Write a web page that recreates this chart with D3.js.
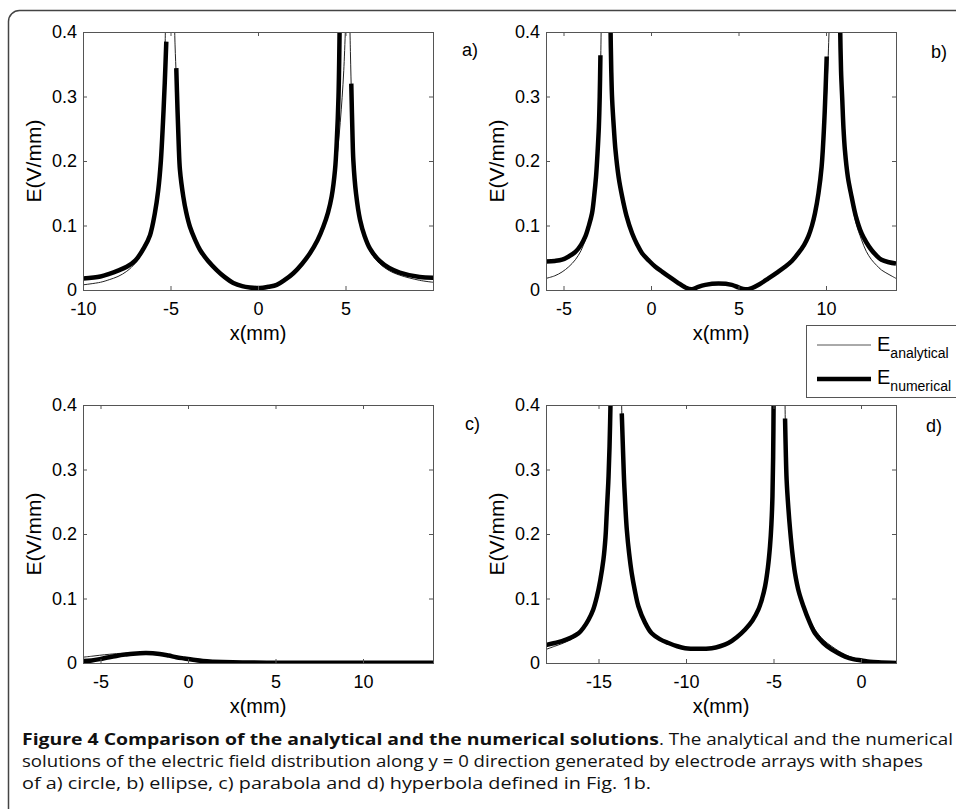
<!DOCTYPE html>
<html>
<head>
<meta charset="utf-8">
<script src="https://cdn.jsdelivr.net/npm/d3@7"></script>
<style>
  body { margin: 0; background: #fff; }
</style>
</head>
<body>
<span></span>
<script>
// E along y = 0 for four electrode shapes, analytical (thin) vs numerical (thick)
// every series is split in segments, the electrodes leave a gap in the curves

const yTicks = [0, 0.1, 0.2, 0.3, 0.4];

// a) circle
const xTicksA = [-10, -5, 0, 5];
const numA = [
    [[-10,0.018],[-9,0.021],[-8.5,0.025],[-8,0.03],[-7.5,0.036],[-7,0.046],[-6.5,0.066],[-6.17,0.085],[-5.9,0.118],[-5.7,0.155],[-5.55,0.2],[-5.43,0.26],[-5.33,0.32],[-5.24,0.385]],
    [[-4.67,0.344],[-4.6,0.28],[-4.53,0.225],[-4.46,0.186],[-4.27,0.145],[-4.1,0.12],[-3.89,0.098],[-3.6,0.078],[-3.31,0.062],[-2.85,0.045],[-2.36,0.031],[-1.9,0.02],[-1.41,0.011],[-0.9,0.006],[-0.46,0.004],[0.11,0.003],[0.6,0.005],[1.07,0.008],[1.55,0.016],[2.02,0.026],[2.5,0.04],[2.97,0.057],[3.4,0.077],[3.73,0.098],[4.0,0.12],[4.21,0.145],[4.4,0.186],[4.5,0.23],[4.6,0.3],[4.67,0.42]],
    [[5.33,0.32],[5.4,0.24],[5.45,0.2],[5.6,0.15],[5.83,0.109],[6.1,0.083],[6.4,0.064],[6.95,0.045],[7.5,0.034],[8.1,0.027],[9.24,0.02],[10,0.019]]
];
const anaA = [
    [[-10,0.008],[-9,0.012],[-8.5,0.016],[-8,0.021],[-7.5,0.029],[-7,0.042],[-6.5,0.063],[-6.17,0.083],[-5.9,0.116],[-5.7,0.153],[-5.55,0.2],[-5.43,0.26],[-5.35,0.33],[-5.3,0.39],[-5.27,0.45]],
    [[-4.8,0.45],[-4.74,0.38],[-4.67,0.33],[-4.6,0.28],[-4.53,0.225],[-4.46,0.186],[-4.27,0.145],[-4.1,0.12],[-3.89,0.098],[-3.6,0.078],[-3.31,0.062],[-2.85,0.045],[-2.36,0.031],[-1.9,0.019],[-1.41,0.01],[-0.9,0.005],[-0.46,0.002],[0.11,0.002],[0.6,0.004],[1.07,0.007],[1.55,0.015],[2.02,0.026],[2.5,0.04],[2.97,0.057],[3.4,0.077],[3.73,0.098],[4.0,0.12],[4.21,0.145],[4.45,0.19],[4.7,0.26],[4.9,0.34],[5.05,0.45]],
    [[5.22,0.45],[5.28,0.37],[5.35,0.29],[5.45,0.198],[5.6,0.148],[5.83,0.106],[6.1,0.08],[6.4,0.06],[6.95,0.041],[7.5,0.03],[8.1,0.023],[9.24,0.015],[10,0.012]]
];

// b) ellipse
const xTicksB = [-5, 0, 5, 10];
const numB = [
    [[-6,0.044],[-5.5,0.045],[-5.08,0.047],[-4.7,0.052],[-4.32,0.059],[-4.0,0.07],[-3.75,0.083],[-3.55,0.1],[-3.37,0.119],[-3.25,0.145],[-3.14,0.176],[-3.05,0.215],[-2.98,0.253],[-2.93,0.3],[-2.89,0.364]],
    [[-2.32,0.42],[-2.27,0.34],[-2.22,0.295],[-2.12,0.25],[-2.03,0.217],[-1.85,0.175],[-1.65,0.145],[-1.4,0.115],[-1.08,0.088],[-0.8,0.071],[-0.51,0.057],[-0.1,0.045],[0.25,0.036],[0.6,0.029],[1.01,0.021],[1.5,0.012],[1.96,0.004],[2.34,0.001],[2.7,0.005],[3.1,0.008],[3.86,0.01],[4.62,0.008],[5.0,0.004],[5.38,0.001],[5.76,0.003],[6.2,0.009],[6.71,0.018],[7.2,0.027],[7.66,0.036],[8.05,0.045],[8.42,0.057],[8.75,0.07],[8.99,0.083],[9.2,0.1],[9.37,0.119],[9.57,0.15],[9.75,0.191],[9.9,0.26],[10.04,0.362]],
    [[10.8,0.42],[10.86,0.34],[10.93,0.295],[11.0,0.25],[11.08,0.217],[11.25,0.175],[11.46,0.145],[11.7,0.115],[12.03,0.088],[12.3,0.074],[12.6,0.062],[12.9,0.053],[13.17,0.047],[13.6,0.043],[14,0.041]]
];
const anaB = [
    [[-6,0.018],[-5.5,0.022],[-5.08,0.028],[-4.7,0.036],[-4.32,0.047],[-4.0,0.061],[-3.75,0.078],[-3.55,0.095],[-3.37,0.115],[-3.25,0.14],[-3.14,0.17],[-3.05,0.21],[-2.98,0.25],[-2.9,0.32],[-2.85,0.4],[-2.83,0.45]],
    [[-2.37,0.45],[-2.3,0.36],[-2.22,0.295],[-2.12,0.25],[-2.03,0.217],[-1.85,0.175],[-1.65,0.145],[-1.4,0.115],[-1.08,0.088],[-0.8,0.071],[-0.51,0.057],[-0.1,0.045],[0.25,0.036],[0.6,0.029],[1.01,0.021],[1.5,0.012],[1.96,0.004],[2.34,0.001],[2.7,0.004],[3.1,0.007],[3.86,0.009],[4.62,0.007],[5.0,0.004],[5.38,0.001],[5.76,0.003],[6.2,0.009],[6.71,0.018],[7.2,0.027],[7.66,0.036],[8.05,0.045],[8.42,0.057],[8.75,0.07],[8.99,0.083],[9.2,0.1],[9.37,0.119],[9.57,0.15],[9.75,0.19],[9.92,0.25],[10.08,0.33],[10.23,0.45]],
    [[10.75,0.45],[10.82,0.35],[10.9,0.3],[11.0,0.25],[11.08,0.215],[11.25,0.17],[11.46,0.14],[11.7,0.105],[12.03,0.078],[12.3,0.06],[12.6,0.047],[12.9,0.038],[13.17,0.031],[13.6,0.024],[14,0.018]]
];

// c) parabola
const xTicksC = [-5, 0, 5, 10];
const numC = [
    [[-6,0.003],[-5.5,0.004],[-5.04,0.006],[-4.5,0.009],[-4.09,0.011],[-3.6,0.013],[-3.14,0.0145],[-2.38,0.0155],[-1.62,0.014],[-1.1,0.0115],[-0.67,0.009],[-0.2,0.007],[0.29,0.005],[0.85,0.003],[1.43,0.002],[2.57,0.001],[5,0.0005],[10,0.0003],[14,0.0002]]
];
const anaC = [
    [[-6,0.009],[-5.5,0.0105],[-5.04,0.012],[-4.5,0.0135],[-4.09,0.0145],[-3.6,0.0155],[-3.14,0.016],[-2.38,0.016],[-1.62,0.014],[-1.1,0.012],[-0.67,0.01],[-0.2,0.008],[0.29,0.006],[0.85,0.004],[1.43,0.003],[2.57,0.0015],[5,0.0008],[10,0.0004],[14,0.0003]]
];

// d) hyperbola
const xTicksD = [-15, -10, -5, 0];
const numD = [
    [[-18,0.028],[-17.5,0.031],[-17.09,0.034],[-16.6,0.039],[-16.14,0.046],[-15.85,0.055],[-15.57,0.067],[-15.3,0.083],[-15.09,0.103],[-14.9,0.128],[-14.72,0.16],[-14.6,0.195],[-14.53,0.232],[-14.44,0.28],[-14.37,0.335],[-14.3,0.42]],
    [[-13.67,0.387],[-13.6,0.33],[-13.54,0.284],[-13.46,0.24],[-13.38,0.206],[-13.25,0.17],[-13.1,0.139],[-12.92,0.112],[-12.72,0.088],[-12.35,0.063],[-11.96,0.046],[-11.5,0.037],[-11.0,0.031],[-10.5,0.026],[-10.05,0.023],[-9.29,0.022],[-8.53,0.023],[-8.05,0.026],[-7.58,0.031],[-7.1,0.04],[-6.62,0.052],[-6.2,0.066],[-5.86,0.083],[-5.65,0.1],[-5.48,0.119],[-5.32,0.148],[-5.2,0.181],[-5.12,0.215],[-5.06,0.258],[-5.02,0.32],[-4.99,0.42]],
    [[-4.34,0.379],[-4.3,0.33],[-4.25,0.284],[-4.15,0.24],[-4.05,0.206],[-3.92,0.17],[-3.77,0.139],[-3.55,0.11],[-3.29,0.088],[-2.95,0.064],[-2.63,0.046],[-2.15,0.031],[-1.68,0.021],[-1.3,0.015],[-0.91,0.01],[-0.45,0.006],[0.04,0.004],[0.5,0.002],[0.99,0.001],[2,0.0]]
];
const anaD = [
    [[-18,0.021],[-17.5,0.026],[-17.09,0.03],[-16.6,0.036],[-16.14,0.044],[-15.85,0.054],[-15.57,0.066],[-15.3,0.083],[-15.09,0.103],[-14.9,0.128],[-14.72,0.16],[-14.6,0.195],[-14.53,0.232],[-14.44,0.28],[-14.37,0.335],[-14.3,0.38],[-14.25,0.45]],
    [[-13.72,0.45],[-13.65,0.37],[-13.6,0.33],[-13.54,0.284],[-13.46,0.24],[-13.38,0.206],[-13.25,0.17],[-13.1,0.139],[-12.92,0.112],[-12.72,0.088],[-12.35,0.063],[-11.96,0.046],[-11.5,0.037],[-11.0,0.031],[-10.5,0.026],[-10.05,0.023],[-9.29,0.022],[-8.53,0.023],[-8.05,0.026],[-7.58,0.031],[-7.1,0.04],[-6.62,0.052],[-6.2,0.066],[-5.86,0.083],[-5.65,0.1],[-5.48,0.119],[-5.32,0.148],[-5.2,0.181],[-5.12,0.215],[-5.06,0.258],[-5.02,0.32],[-4.97,0.45]],
    [[-4.36,0.45],[-4.32,0.36],[-4.28,0.3],[-4.15,0.24],[-4.05,0.206],[-3.92,0.17],[-3.77,0.14],[-3.55,0.112],[-3.29,0.09],[-2.95,0.068],[-2.63,0.052],[-2.15,0.036],[-1.68,0.026],[-1.3,0.019],[-0.91,0.013],[-0.45,0.008],[0.04,0.005],[0.5,0.003],[0.99,0.002],[2,0.001]]
];

const panels = [
    {id: "a", label: "a)", x0: 83,  x1: 433, y0: 32,  y1: 290, xDom: [-10, 10], xTicks: xTicksA, num: numA, ana: anaA, lx: 462, ly: 56,  ylx: 34},
    {id: "b", label: "b)", x0: 546, x1: 896, y0: 32,  y1: 290, xDom: [-6, 14],  xTicks: xTicksB, num: numB, ana: anaB, lx: 931, ly: 58,  ylx: 497},
    {id: "c", label: "c)", x0: 83,  x1: 433, y0: 405, y1: 663, xDom: [-6, 14],  xTicks: xTicksC, num: numC, ana: anaC, lx: 465, ly: 430, ylx: 34},
    {id: "d", label: "d)", x0: 546, x1: 896, y0: 405, y1: 663, xDom: [-18, 2],  xTicks: xTicksD, num: numD, ana: anaD, lx: 926, ly: 432, ylx: 497}
];

const width = 956, height = 809;
const axisFont = "'Liberation Sans', Arial, sans-serif";
const capFont = "'Open Sans', 'Noto Sans', sans-serif";

const svg = d3.select("span")
    .append("svg")
    .attr("width", width)
    .attr("height", height)
    .style("display", "block");

svg.append("rect").attr("width", width).attr("height", height).attr("fill", "#fff");

// outer frame, runs off the right and bottom edge
svg.append("rect")
    .attr("x", 8.5).attr("y", 10.5)
    .attr("width", 1000).attr("height", 900)
    .attr("rx", 11)
    .attr("fill", "none")
    .attr("stroke", "#444")
    .attr("stroke-width", 1.5);

function drawPanel(p) {
    const xScale = d3.scaleLinear().domain(p.xDom).range([p.x0, p.x1]);
    const yScale = d3.scaleLinear().domain([0, 0.4]).range([p.y1, p.y0]);

    const line = d3.line()
        .x(d => xScale(d[0]))
        .y(d => yScale(d[1]))
        .curve(d3.curveCatmullRom.alpha(0.5));

    svg.append("clipPath").attr("id", "clip-" + p.id)
        .append("rect")
        .attr("x", p.x0).attr("y", p.y0)
        .attr("width", p.x1 - p.x0).attr("height", p.y1 - p.y0);

    const g = svg.append("g").attr("clip-path", "url(#clip-" + p.id + ")");

    g.selectAll(".ana")
        .data(p.ana)
        .enter()
        .append("path")
            .attr("class", "ana")
            .attr("d", line)
            .style("fill", "none")
            .style("stroke", "#222")
            .style("stroke-width", 1);

    g.selectAll(".num")
        .data(p.num)
        .enter()
        .append("path")
            .attr("class", "num")
            .attr("d", line)
            .style("fill", "none")
            .style("stroke", "#000")
            .style("stroke-width", 4.5);

    // MATLAB style box with inward ticks on all four sides, plain hyphen minus
    const xFmt = d => d < 0 ? "-" + Math.abs(d) : String(d);
    const yFmt = d => d === 0 ? "0" : d.toFixed(1);
    const axes = [
        [d3.axisBottom(xScale).tickValues(p.xTicks).tickFormat(xFmt).tickPadding(12), `translate(0,${p.y1})`],
        [d3.axisTop(xScale).tickValues(p.xTicks).tickFormat(""), `translate(0,${p.y0})`],
        [d3.axisLeft(yScale).tickValues(yTicks).tickFormat(yFmt).tickPadding(6), `translate(${p.x0},0)`],
        [d3.axisRight(yScale).tickValues(yTicks).tickFormat(""), `translate(${p.x1},0)`]
    ];
    axes.forEach(a => {
        const ax = svg.append("g")
            .attr("transform", a[1])
            .call(a[0].tickSizeInner(-4).tickSizeOuter(0));
        ax.select(".domain").remove();
        ax.selectAll("line").attr("stroke", "#555");
        ax.selectAll("text")
            .style("font-size", "18px")
            .style("font-family", axisFont)
            .attr("fill", "#000");
    });

    svg.append("rect")
        .attr("x", p.x0 + 0.5).attr("y", p.y0 + 0.5)
        .attr("width", p.x1 - p.x0).attr("height", p.y1 - p.y0)
        .attr("fill", "none")
        .attr("stroke", "#555");

    svg.append("text")
        .attr("text-anchor", "middle")
        .attr("x", (p.x0 + p.x1) / 2)
        .attr("y", p.y1 + 50)
        .style("font-family", axisFont)
        .style("font-size", "20px")
        .text("x(mm)");

    svg.append("text")
        .attr("text-anchor", "middle")
        .attr("transform", `translate(${p.ylx + 7},${(p.y0 + p.y1) / 2}) rotate(-90)`)
        .style("font-family", axisFont)
        .style("font-size", "21px")
        .text("E(V/mm)");

    svg.append("text")
        .attr("x", p.lx)
        .attr("y", p.ly)
        .style("font-family", axisFont)
        .style("font-size", "18px")
        .text(p.label);
}

panels.forEach(drawPanel);

// legend box, also cut by the right edge
const leg = svg.append("g");
leg.append("rect")
    .attr("x", 806.5).attr("y", 325.5)
    .attr("width", 200).attr("height", 72)
    .attr("fill", "#fff")
    .attr("stroke", "#555");
leg.append("line")
    .attr("x1", 817).attr("x2", 871).attr("y1", 345).attr("y2", 345)
    .attr("stroke", "#555").attr("stroke-width", 1);
leg.append("line")
    .attr("x1", 817).attr("x2", 871).attr("y1", 379).attr("y2", 379)
    .attr("stroke", "#000").attr("stroke-width", 4.5);
const legNames = ["analytical", "numerical"];
legNames.forEach((n, i) => {
    const t = leg.append("text")
        .attr("x", 877)
        .attr("y", 351 + i * 33)
        .style("font-family", axisFont)
        .style("font-size", "20px");
    t.append("tspan").text("E");
    t.append("tspan")
        .attr("dy", 7)
        .style("font-size", "14px")
        .text(n);
});

// caption
const capLines = [
    {x: 22,  y: 745, w: 637, bold: true,  t: "Figure 4 Comparison of the analytical and the numerical solutions"},
    {x: 659, y: 745, w: 294, bold: false, t: ". The analytical and the numerical"},
    {x: 22,  y: 767, w: 901, bold: false, t: "solutions of the electric field distribution along y = 0 direction generated by electrode arrays with shapes"},
    {x: 22,  y: 789, w: 629, bold: false, t: "of a) circle, b) ellipse, c) parabola and d) hyperbola defined in Fig. 1b."}
];
svg.selectAll(".cap")
    .data(capLines)
    .enter()
    .append("text")
        .attr("class", "cap")
        .attr("x", d => d.x)
        .attr("y", d => d.y)
        .attr("textLength", d => d.w)
        .attr("lengthAdjust", "spacingAndGlyphs")
        .style("font-family", capFont)
        .style("font-size", "16.5px")
        .style("font-weight", d => d.bold ? "bold" : "normal")
        .attr("fill", "#111")
        .text(d => d.t);
</script>
</body>
</html>
